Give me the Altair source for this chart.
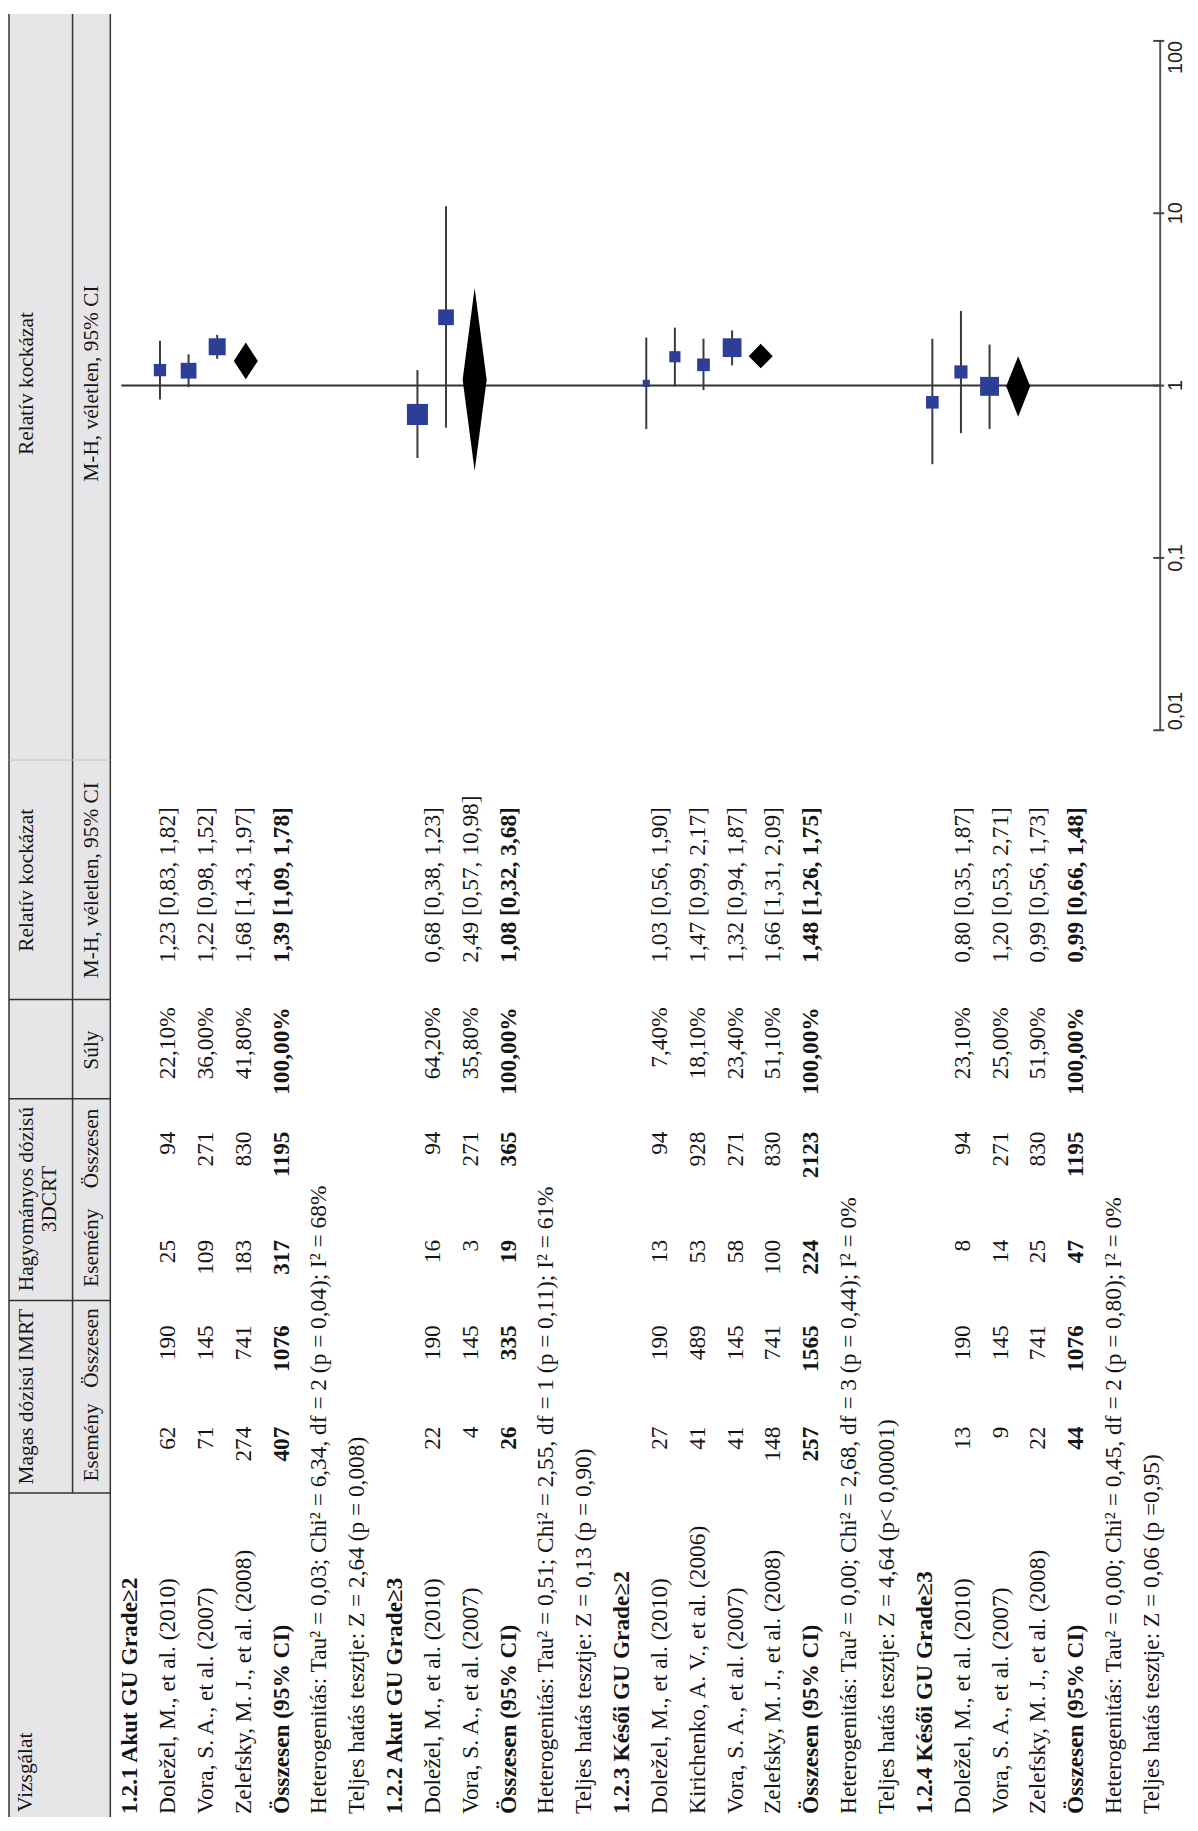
import altair as alt
import pandas as pd

# ---------------- data ----------------
subgroups = ["1.2.1 Akut GU Grade≥2", "1.2.2 Akut GU Grade≥3",
             "1.2.3 Késői GU Grade≥2", "1.2.4 Késői GU Grade≥3"]
study_names = [
    ["Doležel, M., et al. (2010)", "Vora, S. A., et al. (2007)", "Zelefsky, M. J., et al. (2008)"],
    ["Doležel, M., et al. (2010)", "Vora, S. A., et al. (2007)"],
    ["Doležel, M., et al. (2010)", "Kirichenko, A. V., et al. (2006)",
     "Vora, S. A., et al. (2007)", "Zelefsky, M. J., et al. (2008)"],
    ["Doležel, M., et al. (2010)", "Vora, S. A., et al. (2007)", "Zelefsky, M. J., et al. (2008)"],
]
imrt_events = [[62, 71, 274], [22, 4], [27, 41, 41, 148], [13, 9, 22]]
imrt_total = [[190, 145, 741], [190, 145], [190, 489, 145, 741], [190, 145, 741]]
crt_events = [[25, 109, 183], [16, 3], [13, 53, 58, 100], [8, 14, 25]]
crt_total = [[94, 271, 830], [94, 271], [94, 928, 271, 830], [94, 271, 830]]
weights = [[22.10, 36.00, 41.80], [64.20, 35.80], [7.40, 18.10, 23.40, 51.10], [23.10, 25.00, 51.90]]
rr = [[1.23, 1.22, 1.68], [0.68, 2.49], [1.03, 1.47, 1.32, 1.66], [0.80, 1.20, 0.99]]
rr_low = [[0.83, 0.98, 1.43], [0.38, 0.57], [0.56, 0.99, 0.94, 1.31], [0.35, 0.53, 0.56]]
rr_high = [[1.82, 1.52, 1.97], [1.23, 10.98], [1.90, 2.17, 1.87, 2.09], [1.87, 2.71, 1.73]]
total_imrt_events = [407, 26, 257, 44]
total_imrt = [1076, 335, 1565, 1076]
total_crt_events = [317, 19, 224, 47]
total_crt = [1195, 365, 2123, 1195]
total_weight = [100.00, 100.00, 100.00, 100.00]
pooled_rr = [1.39, 1.08, 1.48, 0.99]
pooled_low = [1.09, 0.32, 1.26, 0.66]
pooled_high = [1.78, 3.68, 1.75, 1.48]
heterogeneity = [
    "Heterogenitás: Tau² = 0,03; Chi² = 6,34, df = 2 (p = 0,04); I² = 68%",
    "Heterogenitás: Tau² = 0,51; Chi² = 2,55, df = 1 (p = 0,11); I² = 61%",
    "Heterogenitás: Tau² = 0,00; Chi² = 2,68, df = 3 (p = 0,44); I² = 0%",
    "Heterogenitás: Tau² = 0,00; Chi² = 0,45, df = 2 (p = 0,80); I² = 0%",
]
overall_test = [
    "Teljes hatás tesztje: Z = 2,64 (p = 0,008)",
    "Teljes hatás tesztje: Z = 0,13 (p = 0,90)",
    "Teljes hatás tesztje: Z = 4,64 (p< 0,00001)",
    "Teljes hatás tesztje: Z = 0,06 (p =0,95)",
]
total_label = "Összesen (95% CI)"
# forest-plot row numbers (studies, then the pooled diamond) for each subgroup
plot_rows = [[0, 1, 2, 3], [9, 10, 11], [17, 18, 19, 20, 21], [27, 28, 29, 30]]
tick_values = [0.01, 0.1, 1, 10, 100]
tick_labels = ["0,01", "0,1", "1", "10", "100"]
header_top = ["Vizsgálat", "Magas dózisú IMRT", "Hagyományos dózisú", "3DCRT",
              "Relatív kockázat", "Relatív kockázat"]
header_sub = ["Esemény", "Összesen", "Esemény", "Összesen", "Súly",
              "M-H, véletlen, 95% CI", "M-H, véletlen, 95% CI"]

# ---------------- helpers ----------------
SERIF = "Liberation Serif"
SANS = "Liberation Sans"
INK = "#151515"
LINE = "#333333"
BLUE = "#2d3e96"
W, H = 1190, 1815
BODY = 23.5
HEAD = 21.5


def hu(v, d=2):
    return f"{v:.{d}f}".replace(".", ",")


def rr_text(m, lo, hi):
    return f"{hu(m)} [{hu(lo)}, {hu(hi)}]"


rows = []
r = 0
for g in range(4):
    rows.append(dict(row=r, label=subgroups[g], bold=True, e1="", n1="", e2="", n2="", wt="", rrt=""))
    r += 1
    for k, name in enumerate(study_names[g]):
        rows.append(dict(row=r, label=name, bold=False,
                         e1=str(imrt_events[g][k]), n1=str(imrt_total[g][k]),
                         e2=str(crt_events[g][k]), n2=str(crt_total[g][k]),
                         wt=hu(weights[g][k]) + "%",
                         rrt=rr_text(rr[g][k], rr_low[g][k], rr_high[g][k])))
        r += 1
    rows.append(dict(row=r, label=total_label, bold=True,
                     e1=str(total_imrt_events[g]), n1=str(total_imrt[g]),
                     e2=str(total_crt_events[g]), n2=str(total_crt[g]),
                     wt=hu(total_weight[g]) + "%",
                     rrt=rr_text(pooled_rr[g], pooled_low[g], pooled_high[g])))
    r += 1
    rows.append(dict(row=r, label=heterogeneity[g], bold=False, e1="", n1="", e2="", n2="", wt="", rrt=""))
    r += 1
    rows.append(dict(row=r, label=overall_test[g], bold=False, e1="", n1="", e2="", n2="", wt="", rrt=""))
    r += 1
table = pd.DataFrame(rows)

studies, diamonds = [], []
for g in range(4):
    for k in range(len(rr[g])):
        studies.append(dict(pidx=plot_rows[g][k], rr=rr[g][k], lo=rr_low[g][k],
                            hi=rr_high[g][k], w=weights[g][k]))
    c = plot_rows[g][-1]
    half = 0.42
    diamonds += [dict(grp=g, yv=pooled_low[g], xa=c, xb=c),
                 dict(grp=g, yv=pooled_rr[g], xa=c - half, xb=c + half),
                 dict(grp=g, yv=pooled_high[g], xa=c, xb=c)]
studies = pd.DataFrame(studies)
diamonds = pd.DataFrame(diamonds)

row_scale = alt.Scale(domain=[0, 27], range=[123, 1151.7], nice=False, zero=False)
pidx_scale = alt.Scale(domain=[0, 30], range=[153, 1017], nice=False, zero=False)
log_scale = alt.Scale(type="log", domain=[0.01, 100], range=[721, 27], nice=False)

one = pd.DataFrame({"_": [0]})
layers = []

# header background and lines
layers.append(alt.Chart(one).mark_rect(color="#e6e6e9").encode(
    x=alt.value(1), x2=alt.value(103), y=alt.value(0), y2=alt.value(H)))


def vline(x, y1, y2, color=LINE, w=1.5):
    return alt.Chart(one).mark_rule(color=color, strokeWidth=w).encode(
        x=alt.value(x), y=alt.value(y1), y2=alt.value(y2))


def hline(y, color=LINE, w=1.5):
    return alt.Chart(one).mark_rule(color=color, strokeWidth=w).encode(
        y=alt.value(y), x=alt.value(1), x2=alt.value(103))


layers += [vline(1, 0, H), vline(103, 0, H), vline(65, 0, 1489),
           hline(1489), hline(1295), hline(1092), hline(992), hline(751, "#c4c4c4", 1)]


def htext(txt, x, y, align="center", size=HEAD):
    return alt.Chart(one).mark_text(angle=270, align=align, baseline="middle", font=SERIF,
                                    fontSize=size, color=INK, text=txt).encode(
        x=alt.value(x), y=alt.value(y))


layers += [
    htext(header_top[0], 18, 1810, align="left"),
    htext(header_top[1], 19, 1392),
    htext(header_top[2], 19, 1193),
    htext(header_top[3], 42, 1193),
    htext(header_top[4], 19, 872),
    htext(header_top[5], 19, 372),
    htext(header_sub[0], 85, 1438),
    htext(header_sub[1], 85, 1343),
    htext(header_sub[2], 85, 1242),
    htext(header_sub[3], 85, 1142),
    htext(header_sub[4], 85, 1043),
    htext(header_sub[5], 85, 872),
    htext(header_sub[6], 85, 372),
]

# table body
columns = [("label", 1812, "left"), ("e1", 1422, "right"), ("n1", 1320, "right"),
           ("e2", 1234, "right"), ("n2", 1125, "right"), ("wt", 1000, "right"),
           ("rrt", 955, "left")]
for field, ypos, align in columns:
    for b in (False, True):
        sub = table[(table["bold"] == b) & (table[field] != "")][["row", field]]
        if len(sub) == 0:
            continue
        layers.append(alt.Chart(sub).mark_text(
            angle=270, align=align, baseline="middle", font=SERIF, fontSize=BODY,
            fontWeight="bold" if b else "normal", color=INK).encode(
            x=alt.X("row:Q", scale=row_scale, axis=None),
            y=alt.value(ypos),
            text=alt.Text(f"{field}:N")))

# forest plot
ref = pd.DataFrame({"v": [1]})
layers.append(alt.Chart(ref).mark_rule(color=LINE, strokeWidth=2).encode(
    y=alt.Y("v:Q", scale=log_scale, axis=None), x=alt.value(114), x2=alt.value(1160)))

axis_df = pd.DataFrame({"a": [tick_values[0]], "b": [tick_values[-1]]})
layers.append(alt.Chart(axis_df).mark_rule(color="#555555", strokeWidth=2).encode(
    x=alt.value(1160), y=alt.Y("a:Q", scale=log_scale, axis=None), y2="b:Q"))

ticks = pd.DataFrame({"t": tick_values, "lab": tick_labels, "i": range(len(tick_values))})
layers.append(alt.Chart(ticks).mark_rule(color="#444444", strokeWidth=2).encode(
    y=alt.Y("t:Q", scale=log_scale, axis=None), x=alt.value(1153), x2=alt.value(1164)))
for sel, align in ((ticks["i"].between(1, 3), "center"),
                   (ticks["i"] == 0, "left"),
                   (ticks["i"] == 4, "right")):
    layers.append(alt.Chart(ticks[sel]).mark_text(
        angle=270, align=align, baseline="top", font=SANS, fontSize=20, color="#222222").encode(
        y=alt.Y("t:Q", scale=log_scale, axis=None), x=alt.value(1166), text="lab:N"))

layers.append(alt.Chart(studies).mark_rule(color="#3a3a3a", strokeWidth=2).encode(
    x=alt.X("pidx:Q", scale=pidx_scale, axis=None),
    y=alt.Y("lo:Q", scale=log_scale, axis=None), y2="hi:Q"))
layers.append(alt.Chart(studies).mark_square(color=BLUE, opacity=1, filled=True).encode(
    x=alt.X("pidx:Q", scale=pidx_scale, axis=None),
    y=alt.Y("rr:Q", scale=log_scale, axis=None),
    size=alt.Size("w:Q", scale=alt.Scale(domain=[0, 100], range=[0, 700]), legend=None)))
layers.append(alt.Chart(diamonds).mark_area(orient="horizontal", color="black", opacity=1).encode(
    y=alt.Y("yv:Q", scale=log_scale, axis=None),
    x=alt.X("xa:Q", scale=pidx_scale, axis=None), x2="xb:Q",
    detail="grp:N"))

chart = alt.layer(*layers).resolve_scale(x="independent", y="independent").properties(
    width=W, height=H, autosize=alt.AutoSizeParams(type="none"), padding=0,
    background="white").configure_view(strokeWidth=0)

chart.save("out.html", embed_options={"renderer": "svg", "actions": False})
